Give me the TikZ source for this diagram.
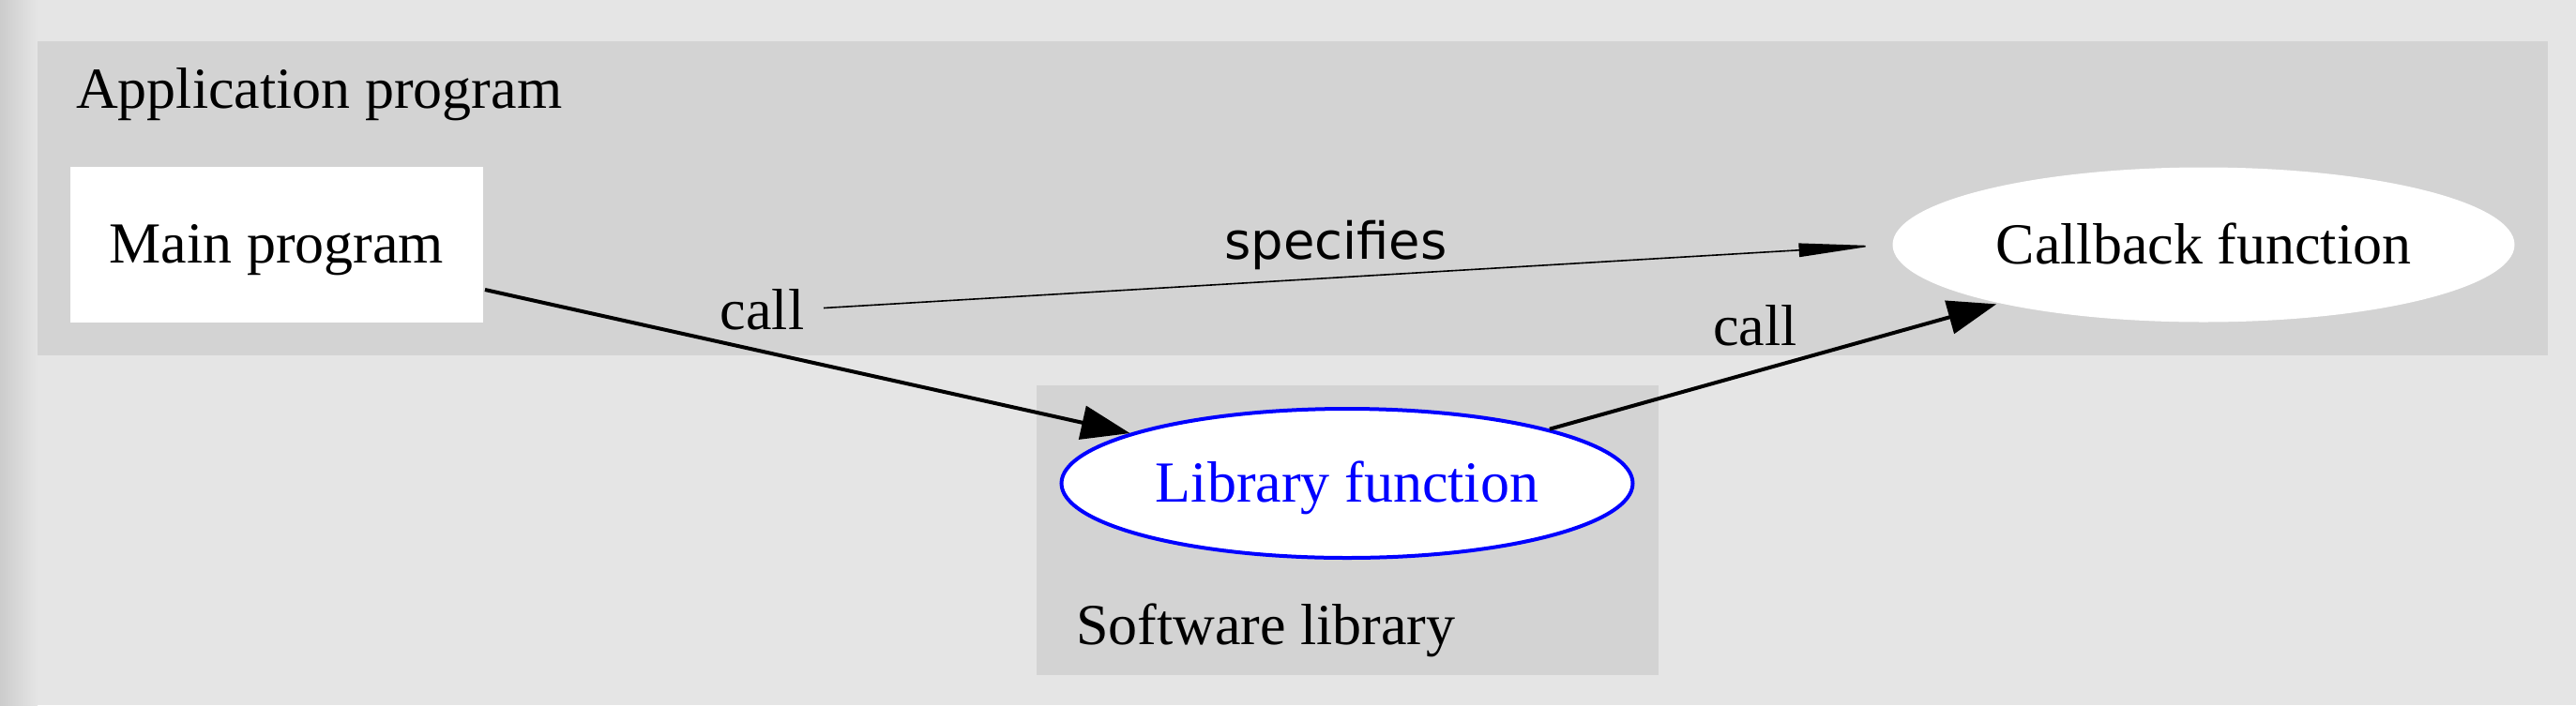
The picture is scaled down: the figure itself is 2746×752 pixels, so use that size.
\documentclass[tikz,border=0pt]{standalone}
\usepackage{fontspec}
\setmainfont{Liberation Serif}
\newfontfamily\edgesans{DejaVu Sans}
\usepackage{tikz}
\usetikzlibrary{arrows.meta,shapes.geometric,positioning}
\definecolor{bggray}{HTML}{E5E5E5}
\definecolor{clustergray}{HTML}{D3D3D3}

\begin{document}
\begin{tikzpicture}[>={Triangle[length=13pt,width=9pt]},x=0.25pt,y=-0.25pt,line width=1pt,font=\fontsize{15.5pt}{18pt}\selectfont]
%1 unit = 1 pixel of the 2746x752 picture

   \tikzstyle{every node}=[inner sep=0pt]
   \tikzstyle{func}=[ellipse,fill=white,text depth=0.75pt,minimum width=165.75pt,minimum height=41.25pt]
   \tikzstyle{lbl}=[above=5.25pt]

  \useasboundingbox (0,0) rectangle (2746,752);
  \fill[bggray] (0,0) rectangle (2746,752);
  \shade[left color=black!20,right color=bggray] (0,0) rectangle (40,752);

  % clusters
  \fill[clustergray] (40,44) rectangle (2716,379);
  \fill[clustergray] (1105,411) rectangle (1768,720);
  \node[anchor=base west] (app)  at (79,115)   {Application program};
  \node[anchor=base west] (soft) at (1145,687) {Software library};

  \node[fill=white,text depth=0.75pt,minimum width=110pt,minimum height=41.5pt] (main) at (295,261) {Main program};
  \node[func] (cb) [right of=main,node distance=513.5pt] {Callback function};
  \node[func,draw=blue,text=blue,minimum width=152.25pt,minimum height=39.75pt] (lib) at (1436,515.5) {Library function};
  \coordinate (spec) at (878,328.5);

 \path [->] ([yshift=-12pt]main.east) edge node[pos=0.43,lbl] {call} (lib.167)
            (lib.15) edge node[pos=0.46,above=6.4pt] {call} (cb.196)
            (spec) edge [line width=0.4pt,-{Triangle[length=20pt,width=3.6pt]},shorten >=4.5pt]
                 node[pos=0.48,above=1.75pt,font=\edgesans\fontsize{13.6pt}{16pt}\selectfont] {specifies} (cb.180);

\end{tikzpicture}
\end{document}
